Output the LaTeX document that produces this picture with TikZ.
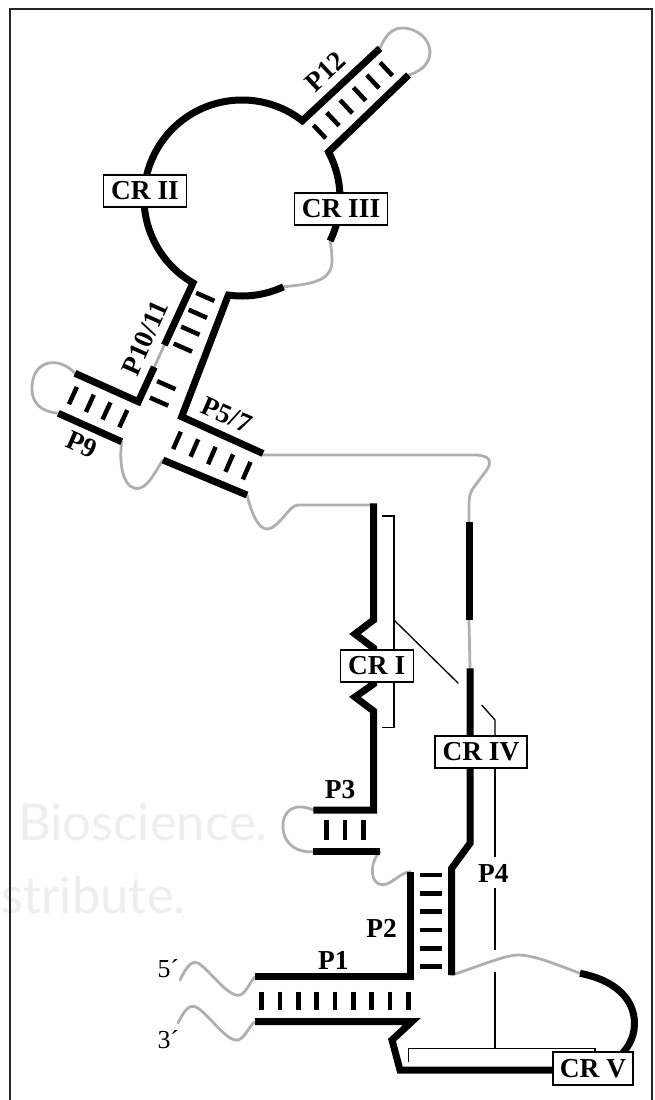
\documentclass[tikz,border=0pt]{standalone}
\usepackage{fontspec}
\setmainfont{Liberation Serif}
\newfontfamily\wmfont{Lato}
\usetikzlibrary{calc}
\definecolor{grayline}{RGB}{175,175,175}
\definecolor{wmgray}{RGB}{238,238,238}
\begin{document}
\begin{tikzpicture}[x=1bp,y=-1bp,
  strand/.style={line width=7bp, black, line join=miter, miter limit=10},
  loopline/.style={line width=2.8bp, grayline, line join=round, line cap=round},
  pairtick/.style={line width=4.5bp, black},
  bracketline/.style={line width=1.3bp, black},
  crbox/.style={draw, line width=1.4bp, fill=white, inner sep=0pt, minimum height=32bp,
    font=\fontsize{27.5}{30}\selectfont\bfseries},
  lab/.style={inner sep=0pt, font=\fontsize{27.5}{30}\selectfont\bfseries},
  endlab/.style={inner sep=0pt, font=\fontsize{26}{28}\selectfont},
  wmark/.style={inner sep=0pt, text=wmgray, font=\wmfont\fontsize{51}{51}\selectfont}
]
\useasboundingbox (0,0) rectangle (655,1100);
% watermark
\node[wmark, anchor=base west] (wm1) at (18,840) {Bioscience.};
\node[wmark, anchor=base west] (wm2) at (1,913) {stribute.};
% frame
\draw[line width=2bp, black!85] (10,1110) -- (10,8.5) -- (652,8.5) -- (652,1110);

% key points
\coordinate (O) at (242,198);
\coordinate (c52) at (302.34,120.77);
\coordinate (c240) at (193,282.87);
\coordinate (c28) at (328.53,151.99);
\coordinate (cm26) at (330.08,240.96);
\coordinate (cm65) at (283.42,286.82);
\coordinate (cm98) at (228.36,295.05);
\coordinate (p12a) at (380,48.3);
\coordinate (p12b) at (408.5,75);
\coordinate (s10b) at (138.3,401.7);
\coordinate (g10a) at ($(c240)!0.523!(s10b)$);
\coordinate (g10b) at ($(c240)!0.708!(s10b)$);
\coordinate (p9a) at (75,373.3);
\coordinate (p9b) at (58.3,413.3);
\coordinate (p9c) at (121.7,441.7);
\coordinate (p57c) at (181.7,416.7);
\coordinate (p57a) at (263,453.5);
\coordinate (p57b) at (163,460);
\coordinate (p57d) at (247,495);
\coordinate (cr1top) at (373.5,503.3);
\coordinate (p3a) at (313.3,810);
\coordinate (p3b) at (313.3,851.7);
\coordinate (p3c) at (380,851.7);
\coordinate (p2top) at (410,871.7);
\coordinate (p1a) at (255,976.7);
\coordinate (p1b) at (255,1021.7);
\coordinate (p4bot) at (451.7,975);
\coordinate (p4low) at (470,668.3);
\coordinate (p4up) at (469,620);
\coordinate (p4top) at (469,521.7);
\coordinate (crvarc) at (580,973.3);
\coordinate (w5) at (180,980);
\coordinate (w3) at (178,1023);

% ---------- gray single-stranded lines ----------
\draw[loopline] (p12a) .. controls (385,36) and (392,28) .. (402,28)
  .. controls (418,28) and (430,40) .. (430,52)
  .. controls (430,64) and (420,72) .. (p12b);
\draw[loopline] (cm65) .. controls (310,284) and (331,282) .. (332,262)
  .. controls (332,252) and (331,246) .. (cm26);
\draw[loopline] (g10a) -- (g10b);
\draw[loopline] (p9a) .. controls (58,355) and (31,360) .. (32,390)
  .. controls (33,408) and (47,412) .. (p9b);
\draw[loopline] (p9c) .. controls (118,470) and (126,492) .. (140,488)
  .. controls (150,485) and (157,468) .. (p57b);
\draw[loopline] (p57d) .. controls (252,515) and (259,530) .. (268,529)
  .. controls (280,527) and (289,505) .. (298,505) -- (373.5,505);
\draw[loopline] (263,455) -- (474,455) .. controls (492,455) and (492,463) .. (486,471)
  -- (474,487) .. controls (470,492) and (469,497) .. (469,506) -- (p4top);
\draw[loopline] (p4low) -- (p4up);
\draw[loopline] (p3a) .. controls (295,802) and (282,810) .. (283,828)
  .. controls (284,845) and (298,853) .. (p3b);
\draw[loopline] (p3c) .. controls (371,860) and (369,880) .. (379,884)
  .. controls (390,888) and (398,873) .. (p2top);
\draw[loopline] (p4bot) .. controls (480,966) and (505,955) .. (518,955)
  .. controls (535,955) and (560,966) .. (crvarc);
\draw[loopline] (w5) .. controls (186,968) and (191,960) .. (198,963)
  .. controls (210,970) and (228,998) .. (240,995)
  .. controls (246,993) and (250,982) .. (p1a);
\draw[loopline] (w3) .. controls (184,1011) and (189,1004) .. (196,1007)
  .. controls (208,1013) and (226,1042) .. (238,1040)
  .. controls (245,1038) and (249,1026) .. (p1b);

% ---------- thin bracket lines ----------
\draw[bracketline] (381.7,516) -- (394,516) -- (394,727.3) -- (381.7,727.3);
\draw[bracketline] (394,620) -- (458.3,683.3);
\draw[bracketline] (481.7,705) -- (495,720) -- (495,740);
\draw[bracketline] (495,765) -- (495,856.7);
\draw[bracketline] (495,888.3) -- (495,950);
\draw[bracketline] (495,971.7) -- (495,1048.3);
\draw[bracketline] (408.3,1061.7) -- (408.3,1048.3) -- (595,1048.3) -- (595,1056);

% ---------- black strands ----------
\draw[strand] (p12a) -- (c52) arc[start angle=-52, end angle=-240, radius=98] -- (g10a);
\draw[strand] (g10b) -- (s10b) -- (p9a);
\draw[strand] (p12b) -- (c28) arc[start angle=-28, end angle=26, radius=98];
\draw[strand] (cm65) arc[start angle=65, end angle=98, radius=98] -- (p57c) -- (p57a);
\draw[strand] (p9b) -- (p9c);
\draw[strand] (p57b) -- (p57d);
\draw[strand] (cr1top) -- (373.5,620) -- (355,634) -- (373.5,648) -- (373.5,684)
  -- (355,697) -- (373.5,711) -- (373.5,810) -- (p3a);
\draw[strand] (p3b) -- (p3c);
\draw[strand] (p2top) -- (410,976.7) -- (p1a);
\draw[strand] (p1b) -- (411.7,1021.7) -- (392,1040) -- (400,1070) -- (560,1070);
\draw[strand] (crvarc) .. controls (615,980) and (638,1000) .. (634,1030)
  .. controls (632,1042) and (626,1050) .. (618,1058);
\draw[strand] (p4bot) -- (451.7,868.3) -- (470,843.3) -- (p4low);
\draw[strand] (p4up) -- (p4top);

% ---------- base pairs ----------
\begin{scope}[shift={(314.5,136.5)}, rotate=43.2]
  \foreach \u in {7,25.3,43.6,61.9,80.2,98.5} \draw[pairtick] (\u,-9) -- (\u,9);
\end{scope}
\begin{scope}[shift={(208.3,290)}, rotate=-113.8]
  \foreach \u in {7.5,26,44.5,63,104,122} \draw[pairtick] (\u,-10) -- (\u,10);
\end{scope}
\begin{scope}[shift={(130.2,421.9)}, rotate=155.3]
  \foreach \u in {7.6,26.1,44.4,63} \draw[pairtick] (\u,-9.5) -- (\u,9.5);
\end{scope}
\begin{scope}[shift={(172.4,438.4)}, rotate=-23.5]
  \foreach \u in {5,24,43,62,81} \draw[pairtick] (\u,-9.5) -- (\u,9.5);
\end{scope}
\foreach \x in {326.7,345,363.3} \draw[pairtick] (\x,820) -- (\x,840);
\foreach \y in {875,893.3,911.7,930,948.3,966.7} \draw[pairtick] (420,\y) -- (441.7,\y);
\foreach \k in {0,...,8} \draw[pairtick] ({261.7+18.33*\k},991.7) -- ({261.7+18.33*\k},1010);

% ---------- boxes ----------
\node[crbox, minimum width=83bp] (crii) at (145,191) {CR II};
\node[crbox, minimum width=93bp] (criii) at (341,209) {CR III};
\node[crbox, minimum width=73bp] (cri) at (376.7,665.8) {CR I};
\node[crbox, minimum width=92bp] (criv) at (481,752) {CR IV};
\node[crbox, minimum width=80bp, minimum height=33bp] (crv) at (593,1068.5) {CR V};

% ---------- labels ----------
\node[lab, rotate=43] (lp12) at (325,71.7) {P12};
\node[lab, rotate=66] (lp1011) at (145,338) {P10/11};
\node[lab, rotate=-24] (lp9) at (81.7,445) {P9};
\node[lab, rotate=-23.5] (lp57) at (226.7,415) {P5/7};
\node[lab] (lp3) at (340,790) {P3};
\node[lab] (lp2) at (381.7,928.3) {P2};
\node[lab] (lp1) at (333.3,960) {P1};
\node[lab] (lp4) at (493.3,873.3) {P4};
\node[endlab] (five) at (168.3,968.3) {5´};
\node[endlab] (three) at (168.3,1040) {3´};
\end{tikzpicture}
\end{document}
